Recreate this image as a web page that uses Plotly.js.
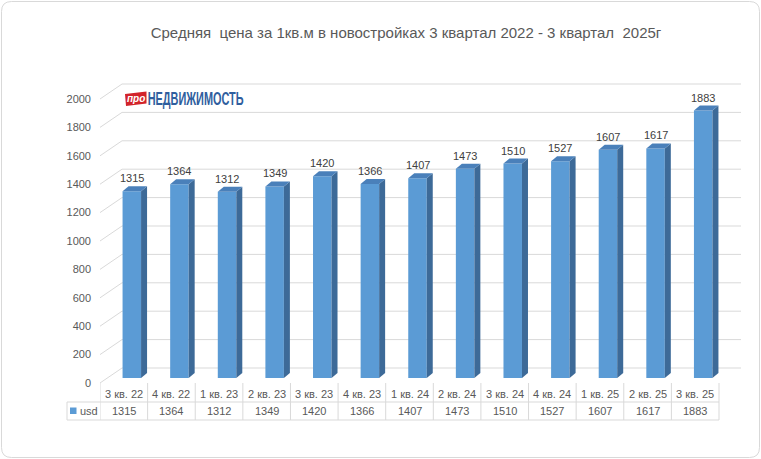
<!DOCTYPE html>
<html><head><meta charset="utf-8">
<script src="https://cdn.plot.ly/plotly-3.0.1.min.js"></script>
<style>html,body{margin:0;padding:0;background:#fff}#chart{width:761px;height:459px}</style>
</head><body><div id="chart"></div>
<script>
const categories = ['3 кв. 22','4 кв. 22','1 кв. 23','2 кв. 23','3 кв. 23','4 кв. 23','1 кв. 24','2 кв. 24','3 кв. 24','4 кв. 24','1 кв. 25','2 кв. 25','3 кв. 25'];
const usd = [1315,1364,1312,1349,1420,1366,1407,1473,1510,1527,1607,1617,1883];
const yTicks = [0,200,400,600,800,1000,1200,1400,1600,1800,2000];
const seriesName = 'usd';
const titleText = 'Средняя\u00a0 цена за 1кв.м в новостройках 3 квартал 2022 - 3 квартал\u00a0 2025г';
const logoBadge = 'про';
const logoWord = 'НЕДВИЖИМОСТЬ';

// geometry (pixels)
const W=761, H=459, PL=100, PR=741, PT=82, PB=422, FRONT0=383, PX_PER_UNIT=0.142, COL=47.615;
const xMin=-0.5, xMax=xMin+(PR-PL)/COL;
const yMax=(FRONT0-PT)/PX_PER_UNIT, yMin=-(PB-FRONT0)/PX_PER_UNIT;
const pxX = p => p/COL;
const pxY = p => p/PX_PER_UNIT;
const yAt = py => (FRONT0-py)/PX_PER_UNIT;
const paperX = px => (px-PL)/(PR-PL);
const paperY = py => (PB-py)/(PB-PT);
const dataPaperX = x => (x-xMin)/(xMax-xMin);

const barShift=pxX(8), barBase=pxY(5), barHalf=pxX(9.25);
const depthX=pxX(6), depthY=pxY(5);
const wallX=pxX(22), wallY=pxY(15);

const FRONT='#5B9BD5', SIDE='#3D6A98', TOP='#4A80BA', GRID='#D9D9D9', TXT='#595959';
const FONT='Liberation Sans, Arial, sans-serif';

const shapes = [];
yTicks.forEach(t => shapes.push({type:'path', xref:'x', yref:'y', layer:'below',
  path:`M${xMin},${t} L${xMin+wallX},${t+wallY} L${xMax},${t+wallY}`, line:{color:GRID,width:1}}));
usd.forEach((v,i) => {
  const xl=i+barShift-barHalf, xr=i+barShift+barHalf, y0=barBase, y1=barBase+v;
  shapes.push({type:'path', xref:'x', yref:'y', layer:'above', fillcolor:SIDE, line:{width:0},
    path:`M${xr},${y0} L${xr+depthX},${y0+depthY} L${xr+depthX},${y1+depthY} L${xr},${y1} Z`});
  shapes.push({type:'path', xref:'x', yref:'y', layer:'above', fillcolor:TOP, line:{width:0},
    path:`M${xl},${y1} L${xl+depthX},${y1+depthY} L${xr+depthX},${y1+depthY} L${xr},${y1} Z`});
});
for (let k=0;k<=categories.length;k++) {
  shapes.push({type:'line', xref:'x', yref:'y', layer:'below', x0:k-0.5, x1:k-0.5, y0:0, y1:yAt(420), line:{color:GRID,width:1}});
}
const tableRight = dataPaperX(categories.length-0.5);
[402,420].forEach(py => shapes.push({type:'line', xref:'paper', yref:'paper', layer:'below',
  x0:paperX(67), x1:tableRight, y0:paperY(py), y1:paperY(py), line:{color:GRID,width:1}}));
shapes.push({type:'line', xref:'paper', yref:'paper', layer:'below', x0:paperX(67), x1:paperX(67), y0:paperY(402), y1:paperY(420), line:{color:GRID,width:1}});
shapes.push({type:'rect', xref:'paper', yref:'paper', x0:paperX(70), x1:paperX(76.5), y0:paperY(407.5), y1:paperY(414), fillcolor:FRONT, line:{width:0}});
// logo badge (red slanted box)
shapes.push({type:'path', xref:'paper', yref:'paper', layer:'above', fillcolor:'#D2232A', line:{width:0},
  path:`M${paperX(125)},${paperY(94)} L${paperX(146.5)},${paperY(91.5)} L${paperX(146.5)},${paperY(103.5)} L${paperX(126)},${paperY(106)} Z`});
// chart border (rounded)
(function(){
  const x0=1.5,y0=1.5,x1=759.5,y1=457.5,r=10;
  const X=paperX, Y=paperY;
  const p=`M${X(x0+r)},${Y(y0)} L${X(x1-r)},${Y(y0)} Q${X(x1)},${Y(y0)} ${X(x1)},${Y(y0+r)} L${X(x1)},${Y(y1-r)} Q${X(x1)},${Y(y1)} ${X(x1-r)},${Y(y1)} L${X(x0+r)},${Y(y1)} Q${X(x0)},${Y(y1)} ${X(x0)},${Y(y1-r)} L${X(x0)},${Y(y0+r)} Q${X(x0)},${Y(y0)} ${X(x0+r)},${Y(y0)} Z`;
  shapes.push({type:'path', xref:'paper', yref:'paper', layer:'below', path:p, line:{color:'#D9D9D9',width:1}});
})();

const annotations = [];
usd.forEach((v,i) => annotations.push({x:i+barShift, y:barBase+v+depthY, xref:'x', yref:'y', text:String(v),
  showarrow:false, yanchor:'bottom', yshift:0, font:{family:FONT,size:11,color:'#404040'}}));
categories.forEach((c,i) => {
  annotations.push({x:i, y:yAt(393.5), xref:'x', yref:'y', text:c, showarrow:false, yanchor:'middle', font:{family:FONT,size:11,color:TXT}});
  annotations.push({x:i, y:yAt(411), xref:'x', yref:'y', text:String(usd[i]), showarrow:false, yanchor:'middle', font:{family:FONT,size:11,color:TXT}});
});
annotations.push({x:paperX(78), y:paperY(411), xref:'paper', yref:'paper', text:seriesName, showarrow:false, xanchor:'left', yanchor:'middle', font:{family:FONT,size:11,color:TXT}});
annotations.push({x:paperX(136), y:paperY(98.5), xref:'paper', yref:'paper', text:logoBadge, showarrow:false, xanchor:'center', yanchor:'middle',
  font:{family:FONT,size:10,color:'#ffffff',weight:700,style:'italic'}});
annotations.push({x:paperX(195.3), y:paperY(98), xref:'paper', yref:'paper', text:logoWord, showarrow:false, xanchor:'center', yanchor:'middle',
  font:{family:FONT,size:19,color:'#2F5E9E',weight:700}});

const data = [{type:'bar', x:categories.map((c,i)=>i+barShift), y:usd, base:barBase, width:2*barHalf, name:seriesName,
  marker:{color:FRONT, line:{width:0}}, hoverinfo:'skip'}];

const layout = {
  width:W, height:H, margin:{l:PL, r:W-PR, t:PT, b:H-PB, pad:0},
  paper_bgcolor:'#fff', plot_bgcolor:'rgba(0,0,0,0)', showlegend:false,
  title:{text:titleText, x:406/W, xref:'container', xanchor:'center', y:1-33/H, yref:'container', yanchor:'middle',
    font:{family:FONT,size:15,color:TXT}},
  xaxis:{range:[xMin,xMax], showgrid:false, zeroline:false, showline:false, showticklabels:false, ticks:'', fixedrange:true},
  yaxis:{range:[yMin,yMax], tickmode:'array', tickvals:yTicks, ticktext:yTicks.map(String), showgrid:false, zeroline:false, showline:false,
    ticks:'', ticklabelstandoff:8, tickfont:{family:FONT,size:11,color:TXT}, fixedrange:true},
  shapes, annotations
};
Plotly.newPlot('chart', data, layout, {displayModeBar:false, staticPlot:true}).then(() => {
  document.querySelectorAll('.annotation-text').forEach(t => {
    if (t.textContent === logoWord) {
      t.setAttribute('textLength', '96');
      t.setAttribute('lengthAdjust', 'spacingAndGlyphs');
    }
  });
});
</script></body></html>
